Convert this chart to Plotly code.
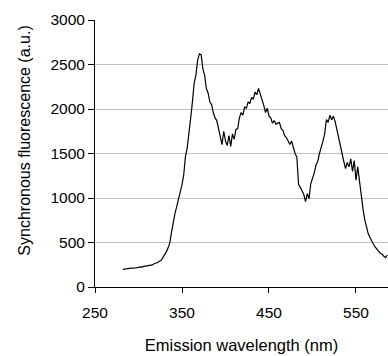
import plotly.graph_objects as go

wavelength_nm = [
    282, 284, 286, 288, 290, 292, 294, 296, 298, 300,
    302, 304, 306, 308, 310, 312, 314, 316, 318, 320,
    322, 324, 326, 328, 330, 332, 334, 336, 338, 340,
    342, 344, 346, 348, 350, 352, 354, 356, 358, 360,
    362, 364, 366, 368, 370, 372, 374, 376, 378, 380,
    382, 384, 386, 388, 390, 392, 394, 396, 398, 400,
    402, 404, 406, 408, 410, 412, 414, 416, 418, 420,
    422, 424, 426, 428, 430, 432, 434, 436, 438, 440,
    442, 444, 446, 448, 450, 452, 454, 456, 458, 460,
    462, 464, 466, 468, 470, 472, 474, 476, 478, 480,
    482, 484, 486, 488, 490, 492, 494, 496, 498, 500,
    502, 504, 506, 508, 510, 512, 514, 516, 518, 520,
    522, 524, 526, 528, 530, 532, 534, 536, 538, 540,
    542, 544, 546, 548, 550, 552, 554, 556, 558, 560,
    562, 564, 566, 568, 570, 572, 574, 576, 578, 580,
    582, 584, 586,
]

fluorescence = [
    198, 202, 205, 204, 210, 212, 211, 217, 219, 221,
    226, 224, 232, 236, 238, 243, 250, 248, 262, 268,
    275, 290, 298, 330, 360, 395, 440, 495, 620, 740,
    830, 905, 980, 1070, 1150, 1260, 1470, 1560, 1700, 1900,
    2080, 2290, 2380, 2550, 2620, 2610, 2450, 2380, 2230, 2180,
    2080, 2050, 1960, 1900, 1870, 1780, 1710, 1600, 1750, 1640,
    1590, 1700, 1580, 1720, 1660, 1770, 1780, 1900, 1960, 1930,
    2020, 2010, 2080, 2060, 2130, 2110, 2190, 2160, 2230, 2170,
    2120, 2040, 1960, 2010, 1920, 1900, 1840, 1870, 1830, 1840,
    1850, 1780, 1760, 1700, 1680, 1640, 1600, 1640, 1560, 1500,
    1460, 1150, 1120, 1080, 1040, 960, 1050, 990, 1160, 1220,
    1280, 1370, 1410, 1500, 1560, 1640, 1720, 1880, 1850, 1930,
    1880, 1920, 1860, 1760, 1700, 1600, 1500, 1410, 1330, 1400,
    1350, 1440, 1300, 1420, 1200, 1350, 1180, 1030, 880, 760,
    680, 600, 560, 510, 480, 450, 420, 400, 380, 370,
    345, 330, 360,
]

y_ticks = [0, 500, 1000, 1500, 2000, 2500, 3000]
x_ticks = [250, 350, 450, 550]

x_title = "Emission wavelength (nm)"
y_title = "Synchronous fluorescence (a.u.)"

FONT = "Liberation Sans, Arial, sans-serif"

fig = go.Figure()
fig.add_trace(go.Scatter(
    x=wavelength_nm, y=fluorescence, mode="lines",
    line=dict(color="black", width=1.2), showlegend=False,
))

fig.update_layout(
    width=388, height=356,
    margin=dict(l=95, r=0, t=20, b=69),
    paper_bgcolor="white", plot_bgcolor="white",
    font=dict(family=FONT, size=15, color="black"),
)
fig.update_xaxes(
    range=[250, 586.8], tickvals=x_ticks, ticktext=[str(v) for v in x_ticks],
    showgrid=False, showline=True, linecolor="black", linewidth=1,
    ticks="outside", ticklen=5, tickcolor="black",
    tickfont=dict(size=15.5), zeroline=False, ticklabelstandoff=6,
    title=dict(text=x_title, font=dict(size=16.5), standoff=19),
)
fig.update_yaxes(
    range=[0, 3000], tickvals=y_ticks, ticktext=[str(v) for v in y_ticks],
    showgrid=True, gridcolor="#c0c0c0", gridwidth=1,
    showline=True, linecolor="black", linewidth=1,
    ticks="outside", ticklen=6, tickcolor="black",
    tickfont=dict(size=15.5), zeroline=False,
)
fig.add_annotation(
    text=y_title, xref="paper", yref="paper",
    x=-0.24, y=0.547, xanchor="center", yanchor="middle",
    textangle=-90, showarrow=False, font=dict(size=16),
)

fig.write_html("out.html")
